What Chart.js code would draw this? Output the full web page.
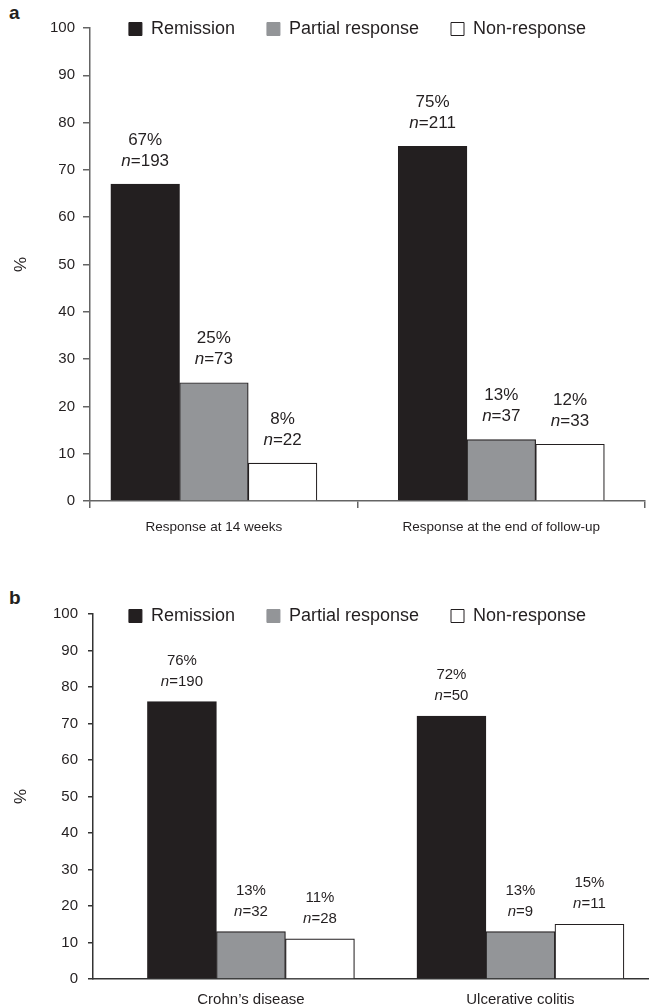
<!DOCTYPE html>
<html><head><meta charset="utf-8">
<script src="https://cdn.jsdelivr.net/npm/chart.js@4/dist/chart.umd.min.js"></script>
<style>
html,body{margin:0;padding:0;background:#fff;}
body{width:649px;height:1007px;position:relative;overflow:hidden;font-family:"Liberation Sans",Arial,sans-serif;}
.wrap{position:absolute;left:0;width:649px;}
#wa{top:0;height:550px;}
#wb{top:550px;height:457px;}
.lbl{position:absolute;left:9px;font-weight:bold;font-size:19px;color:#231f20;line-height:1;}
</style></head><body>
<div class="lbl" style="top:3px">a</div>
<div class="lbl" style="top:588px">b</div>
<div class="wrap" id="wa"><canvas id="ca"></canvas></div>
<div class="wrap" id="wb"><canvas id="cb"></canvas></div>
<script>
// ---------- data ----------
const seriesNames = ['Remission', 'Partial response', 'Non-response'];

const categoriesA = ['Response at 14 weeks', 'Response at the end of follow-up'];
const remissionA = [67, 75];
const partialA = [25, 13];
const nonResponseA = [8, 12];
const nRemissionA = [193, 211];
const nPartialA = [73, 37];
const nNonResponseA = [22, 33];

const categoriesB = ['Crohn\u2019s disease', 'Ulcerative colitis'];
const remissionB = [76, 72];
const partialB = [13, 13];
const nonResponseB = [11, 15];
const nRemissionB = [190, 50];
const nPartialB = [32, 9];
const nNonResponseB = [28, 11];

const yMin = 0, yMax = 100, yStep = 10;

// ---------- styles ----------
const FAMILY = '"Liberation Sans", Arial, Helvetica, sans-serif';
const INK = '#231f20';
const colors = ['#231f20', '#939598', '#ffffff'];

const valueLabels = {
  id: 'valueLabels',
  afterDatasetsDraw(chart, args, opts) {
    const ctx = chart.ctx;
    const size = opts.size;
    chart.data.datasets.forEach((ds, di) => {
      const meta = chart.getDatasetMeta(di);
      meta.data.forEach((bar, i) => {
        const x = bar.x, y = bar.y;
        const pct = Math.round(ds.data[i].y) + '%';
        const rest = '=' + ds.counts[i];
        ctx.save();
        ctx.fillStyle = INK;
        ctx.textBaseline = 'middle';
        ctx.textAlign = 'center';
        ctx.font = size + 'px ' + FAMILY;
        ctx.fillText(pct, x, y - opts.gap1);
        const wRest = ctx.measureText(rest).width;
        ctx.font = 'italic ' + size + 'px ' + FAMILY;
        const wN = ctx.measureText('n').width;
        const x0 = x - (wN + wRest) / 2;
        ctx.textAlign = 'left';
        ctx.fillText('n', x0, y - opts.gap2);
        ctx.font = size + 'px ' + FAMILY;
        ctx.fillText(rest, x0 + wN, y - opts.gap2);
        ctx.restore();
      });
    });
  }
};

const legendMover = {
  id: 'legendMover',
  afterLayout(chart, args, opts) {
    const lg = chart.legend;
    if (!lg) return;
    const pad = lg.options.labels.padding;
    lg.top = opts.centerY - pad - opts.half;
    lg.height = pad + 2 * opts.half + 10;
    lg.bottom = lg.top + lg.height;
    lg.left = opts.centerX - 300;
    lg.right = opts.centerX + 300;
    lg.width = 600;
  }
};

function build(canvasId, p) {
  const series = [p.rem, p.par, p.non];
  const counts = [p.nRem, p.nPar, p.nNon];
  const datasets = series.map((vals, si) => ({
    label: seriesNames[si],
    data: vals.map((v, i) => ({ x: i, y: v })),
    counts: counts[si],
    backgroundColor: colors[si],
    borderColor: INK,
    borderWidth: 1.2,
    barThickness: p.barW
  }));
  const cats = p.cats;
  return new Chart(document.getElementById(canvasId), {
    type: 'bar',
    data: { datasets },
    options: {
      animation: false,
      responsive: true,
      maintainAspectRatio: false,
      layout: { padding: { top: p.padTop, right: p.padRight, bottom: 0, left: 0 } },
      plugins: {
        tooltip: { enabled: false },
        legend: {
          display: true,
          position: 'top',
          maxHeight: 1,
          labels: {
            color: INK,
            font: { size: 18, family: FAMILY },
            boxWidth: 13,
            boxHeight: 13,
            padding: 32,
            generateLabels: (chart) => Chart.defaults.plugins.legend.labels.generateLabels(chart).map((l, i) => Object.assign(l, {
              lineWidth: 1,
              strokeStyle: i === 2 ? INK : l.fillStyle
            }))
          }
        },
        legendMover: { centerY: p.legendY, centerX: 357.5, half: 9 },
        valueLabels: { size: p.labelSize, gap1: p.gap1, gap2: p.gap2 }
      },
      scales: {
        x: {
          type: 'linear',
          offset: false,
          min: p.xMin,
          max: p.xMax,
          afterBuildTicks: (s) => { s.ticks = p.xTicks.map(v => ({ value: v })); },
          afterFit: (s) => { s.height = p.xHeight; s.paddingLeft = 0; s.paddingRight = 0; },
          ticks: {
            autoSkip: false, maxRotation: 0, minRotation: 0,
            padding: p.xPad,
            color: INK,
            font: { size: p.catSize, family: FAMILY },
            callback: (v) => Number.isInteger(v) ? cats[v] : ''
          },
          grid: {
            offset: false,
            drawOnChartArea: false,
            drawTicks: p.xTickLen > 0,
            tickLength: p.xTickLen,
            lineWidth: 1.5,
            color: p.axis,
            tickColor: (c) => (c.tick && Number.isInteger(c.tick.value)) ? 'rgba(0,0,0,0)' : p.axis
          },
          border: { color: p.axis, width: 1.5 }
        },
        y: {
          min: yMin, max: yMax,
          afterFit: (s) => { s.width = p.yWidth; },
          ticks: { stepSize: yStep, padding: p.yPad, color: INK, font: { size: 15, family: FAMILY } },
          grid: { drawOnChartArea: false, tickLength: p.yTickLen, lineWidth: 1.5, color: p.axis },
          border: { color: p.axis, width: 1.5 },
          title: { display: true, text: '%', color: INK, font: { size: 17, family: FAMILY }, padding: { top: 11, bottom: 0 } }
        }
      }
    },
    plugins: [valueLabels, legendMover]
  });
}

build('ca', {
  cats: categoriesA, rem: remissionA, par: partialA, non: nonResponseA,
  nRem: nRemissionA, nPar: nPartialA, nNon: nNonResponseA,
  barW: 68.7, padTop: 27, padRight: 4, legendY: 29,
  xMin: -0.431, xMax: 1.5, xTicks: [-0.431, 0, 0.5, 1, 1.5], xHeight: 49, xPad: 11, xTickLen: 7, catSize: 13.5,
  yWidth: 90, yPad: 8, yTickLen: 7, axis: '#646464',
  labelSize: 17, gap1: 44, gap2: 23
});

build('cb', {
  cats: categoriesB, rem: remissionB, par: partialB, non: nonResponseB,
  nRem: nRemissionB, nPar: nPartialB, nNon: nNonResponseB,
  barW: 69, padTop: 63, padRight: 0, legendY: 66,
  xMin: -0.586, xMax: 1.477, xTicks: [-0.586, 0, 1, 1.477], xHeight: 28, xPad: 12, xTickLen: 0, catSize: 15,
  yWidth: 93, yPad: 10, yTickLen: 5, axis: '#333333',
  labelSize: 15, gap1: 41, gap2: 20
});
</script>
</body></html>
